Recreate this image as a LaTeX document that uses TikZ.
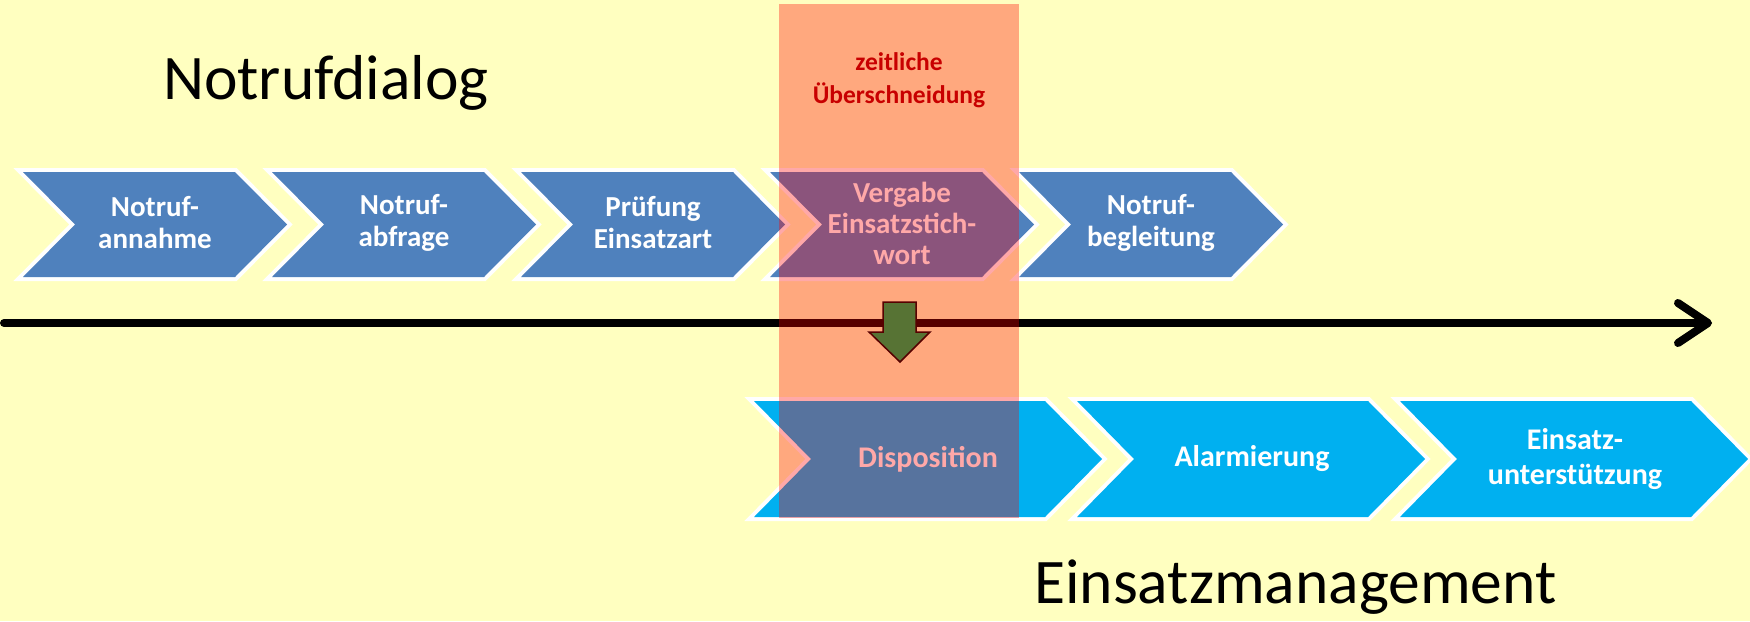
\documentclass[tikz,border=0pt]{standalone}
\usepackage{fontspec}
\setmainfont{Carlito}
\usetikzlibrary{arrows.meta}
\definecolor{bgyellow}{RGB}{255,255,192}
\definecolor{topblue}{RGB}{79,129,189}
\definecolor{botblue}{RGB}{0,176,240}
\definecolor{okgreen}{RGB}{0,176,80}
\definecolor{darkred}{RGB}{200,0,0}
\newcommand\chevron[6]{% x0, ytop, w, h, e, style
  \path[#6] (#1,#2) -- ++(#3,0) -- ++(#5,#4/2) -- ++(-#5,#4/2) -- ++(-#3,0) -- ++(#5,-#4/2) -- cycle;
}
\tikzset{
  chevtop/.style={fill=topblue, preaction={draw=white, line width=8pt, line join=miter}},
  chevbot/.style={fill=botblue, preaction={draw=white, line width=8pt, line join=miter}},
  chevtext/.style={text=white, align=center, inner sep=0pt, font=\bfseries\fontsize{29}{32}\selectfont},
  bottext/.style={text=white, align=center, inner sep=0pt, font=\bfseries\fontsize{30}{35}\selectfont},
  bigtitle/.style={anchor=base west, inner sep=0pt, font=\fontsize{63.5}{70}\selectfont},
  timeline/.style={line width=8pt, line cap=round, line join=round, -{Straight Barb[length=30pt, width=40pt, line cap=round, line join=round]}},
  overlap/.style={fill=red, fill opacity=0.34, draw=none, inner sep=0pt, rectangle},
}
\begin{document}
\begin{tikzpicture}[x=1pt, y=-1pt]
\useasboundingbox (0,0) rectangle (1750,621);
\fill[bgyellow] (0,0) rectangle (1750,621);
% top chevrons
\chevron{23}{172}{212}{105}{52}{chevtop}
\chevron{272}{172}{212}{105}{52}{chevtop}
\chevron{521}{172}{212}{105}{52}{chevtop}
\chevron{770}{172}{212}{105}{52}{chevtop}
\chevron{1019}{172}{212}{105}{52}{chevtop}
\node[chevtext] (t1) at (155,223) {Notruf-\\annahme};
\node[chevtext] (t2) at (404,223) {Notruf-\\abfrage};
\node[chevtext] (t3) at (653,223) {Prüfung\\Einsatzart};
\node[chevtext, font=\bfseries\fontsize{29}{31}\selectfont] (t4) at (902,223) {Vergabe\\Einsatzstich-\\wort};
\node[chevtext] (t5) at (1151,223) {Notruf-\\begleitung};
% bottom chevrons
\chevron{754}{401}{291}{116}{57}{chevbot}
\chevron{1077}{401}{291}{116}{57}{chevbot}
\chevron{1400}{401}{291}{116}{57}{chevbot}
\node[bottext] (b1) at (928,459) {Disposition};
\node[bottext] (b2) at (1252,459) {Alarmierung};
\node[bottext] (b3) at (1575,459) {Einsatz-\\unterstützung};
% timeline
\coordinate (tl0) at (4,323);
\coordinate (tl1) at (1712,323);
\draw[timeline] (tl0) -- (tl1);
% green arrow
\draw[fill=okgreen, draw=black, line width=1.5pt, line join=miter]
  (883,302) -- (916,302) -- (916,332) -- (930,332) -- (900,362) -- (869,332) -- (883,332) -- cycle;
% overlap rectangle
\node[overlap, minimum width=240pt, minimum height=514pt] (ov) at (899,261) {};
\node[text=darkred, align=center, inner sep=0pt, font=\bfseries\fontsize{25.5}{33}\selectfont] (zu) at (899,80) {zeitliche\\Überschneidung};
% titles
\node[bigtitle] (nd) at (163,99) {Notrufdialog};
\node[bigtitle] (em) at (1034,603) {Einsatzmanagement};
\end{tikzpicture}
\end{document}
